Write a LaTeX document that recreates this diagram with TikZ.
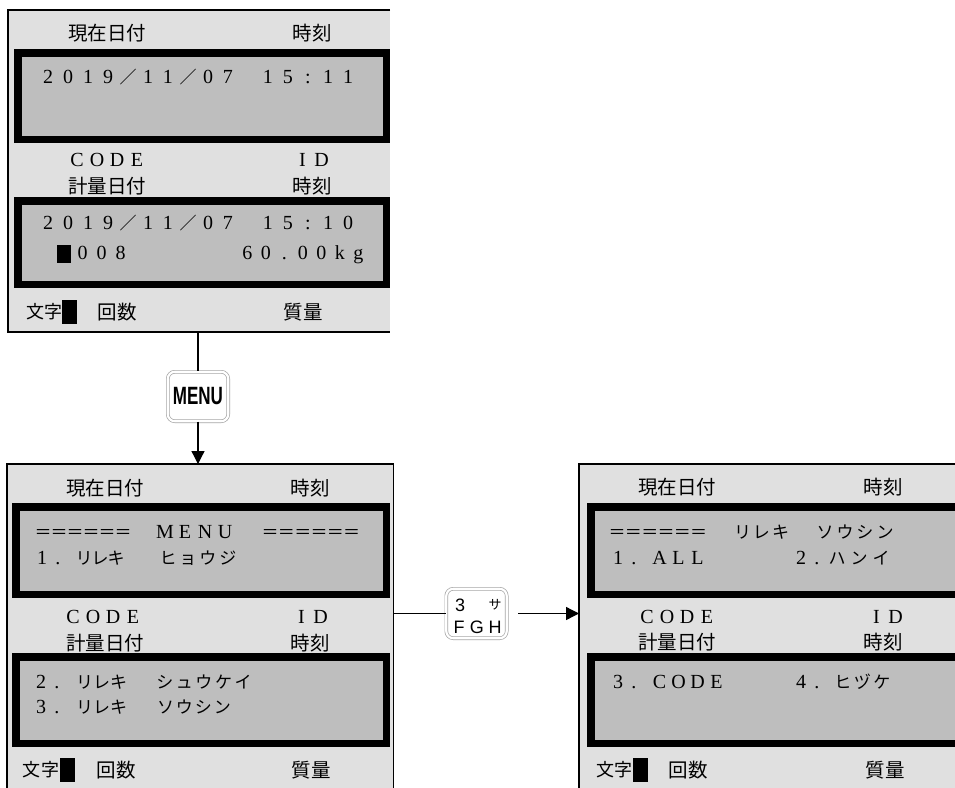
\documentclass[tikz,border=0pt]{standalone}
\usepackage{fontspec}
\usepackage{graphicx}
\usetikzlibrary{arrows.meta}
\newfontfamily\jpfont{Noto Sans CJK JP}
\newfontfamily\keyfont{Liberation Sans}
\newfontfamily\lcdfont{Liberation Serif}
\newcommand\jp{\jpfont\fontsize{19.5pt}{20pt}\selectfont}
\newcommand\jps{\jpfont\fontsize{18pt}{18pt}\selectfont}
\newcommand\kana{\jpfont\fontsize{17pt}{17pt}\selectfont}
\newcommand\lcdf{\lcdfont\fontsize{20pt}{20pt}\selectfont}
\definecolor{lcdout}{RGB}{224,224,224}
\definecolor{lcdin}{RGB}{190,190,190}
\newlength\lcdw
\newcommand\lcdcell[1]{\makebox[\lcdw]{\ifnum`#1>"2000 \kana\fi#1}}
\def\lcdloop#1{\ifx\relax#1\else\lcdcell{#1}\expandafter\lcdloop\fi}
\newcommand\lcd[2]{\setlength\lcdw{#1pt}\lcdloop#2\relax}
\begin{document}
\begin{tikzpicture}[x=1pt,y=-1pt,
  scr/.style={fill=lcdout, inner sep=0, outer sep=0},
  frame/.style={draw=black, line width=1.5pt},
  panel/.style={draw=black, fill=lcdin, line width=7.5pt, inner sep=0, outer sep=0},
  blk/.style={fill=black, inner sep=0, outer sep=0},
  lt/.style={anchor=base west, inner sep=0, outer sep=0, font=\lcdf},
  lb/.style={inner sep=0, outer sep=0, font=\jp},
  key/.style={draw=gray!70, double=white, double distance=2.2pt, line width=0.7pt,
    rounded corners=7pt, fill=white, minimum width=60.4pt, minimum height=49.4pt, inner sep=0},
  kt/.style={inner sep=0, outer sep=0, font=\keyfont\fontsize{18pt}{18pt}\selectfont},
  conn/.style={line width=1.3pt, draw=black},
  arr/.style={-{Triangle[length=13pt,width=13pt]}}]
\useasboundingbox (0,0) rectangle (955,787);
\clip (0,0) rectangle (955,787);
\fill[white] (0,0) rectangle (955,787);

% ---------- screen 1 ----------
\node[scr, minimum width=382pt, minimum height=322pt] (s1) at (199,171) {};
\draw[frame] (s1.north east) -- (s1.north west) -- (s1.south west) -- (s1.south east);
\node[panel, minimum width=368.5pt, minimum height=86.5pt] (s1a) at (202,96) {};
\node[panel, minimum width=368.5pt, minimum height=83.5pt] (s1b) at (202,242.5) {};
\node[lb] (s1l1) at (107,33) {現在日付};
\node[lb] (s1l2) at (312,33) {時刻};
\node[lt] (s1l3) at (38,83.5) {\lcd{20}{2019／11／07~15:11}};
\node[lt] (s1l4) at (67,166.5) {\lcd{20}{CODE}};
\node[lt] (s1l5) at (293,166.5) {\lcd{19}{ID}};
\node[lb] (s1l6) at (107,186) {計量日付};
\node[lb] (s1l7) at (312,186) {時刻};
\node[lt] (s1l8) at (38,229.5) {\lcd{20}{2019／11／07~15:10}};
\node[blk, minimum width=14pt, minimum height=18pt] (c1) at (64,254) {};
\node[lt] (s1l9) at (73,259.5) {\lcd{19}{008}};
\node[lt] (s1l10) at (238,259.5) {\lcd{18.5}{60.00kg}};
\node[lb, font=\jps] (s1l11) at (44.5,312) {文字};
\node[blk, minimum width=15pt, minimum height=24pt] (b1) at (69.5,312) {};
\node[lb] (s1l12) at (117,312) {回数};
\node[lb] (s1l13) at (303,312) {質量};

% ---------- screen 2 ----------
\node[scr, frame, minimum width=386.5pt, minimum height=336pt] (s2) at (200,632) {};
\node[panel, minimum width=370.5pt, minimum height=87.5pt] (s2a) at (201,550.5) {};
\node[panel, minimum width=370.5pt, minimum height=86.5pt] (s2b) at (201,700) {};
\node[lb] (s2l1) at (105,488) {現在日付};
\node[lb] (s2l2) at (310,488) {時刻};
\node[lt] (s2l3) at (35,538.5) {\lcd{16}{＝＝＝＝＝＝}};
\node[lt] (s2l4) at (155,538.5) {\lcd{20}{MENU}};
\node[lt] (s2l5) at (262,538.5) {\lcd{16.3}{＝＝＝＝＝＝}};
\node[lt] (s2l6) at (34,564.5) {\lcd{16}{1.}};
\node[lt] (s2l7) at (76,564.5) {\lcd{16}{リレキ}};
\node[lt] (s2l8) at (158,564.5) {\lcd{20}{ヒョウジ}};
\node[lt] (s2l9) at (63,623.5) {\lcd{20}{CODE}};
\node[lt] (s2l10) at (292,623.5) {\lcd{19}{ID}};
\node[lb] (s2l11) at (105,643) {計量日付};
\node[lb] (s2l12) at (310,643) {時刻};
\node[lt] (s2l13) at (33,688.5) {\lcd{16}{2.}};
\node[lt] (s2l14) at (76,688.5) {\lcd{17}{リレキ}};
\node[lt] (s2l15) at (155,688.5) {\lcd{19.6}{シュウケイ}};
\node[lt] (s2l16) at (33,713.5) {\lcd{16}{3.}};
\node[lt] (s2l17) at (76,713.5) {\lcd{17}{リレキ}};
\node[lt] (s2l18) at (156,713.5) {\lcd{19}{ソウシン}};
\node[lb, font=\jps] (s2l19) at (41,770) {文字};
\node[blk, minimum width=15pt, minimum height=24pt] (b2) at (67.5,770) {};
\node[lb] (s2l20) at (116,770) {回数};
\node[lb] (s2l21) at (311,770) {質量};

% ---------- screen 3 ----------
\node[scr, frame, minimum width=391pt, minimum height=336pt] (s3) at (774.5,632) {};
\node[panel, minimum width=380.5pt, minimum height=87.5pt] (s3a) at (781,550.5) {};
\node[panel, minimum width=380.5pt, minimum height=86.5pt] (s3b) at (781,700) {};
\node[lb] (s3l1) at (677,487) {現在日付};
\node[lb] (s3l2) at (883,487) {時刻};
\node[lt] (s3l3) at (609,538.5) {\lcd{16.3}{＝＝＝＝＝＝}};
\node[lt] (s3l4) at (733,538.5) {\lcd{19}{リレキ}};
\node[lt] (s3l5) at (815,538.5) {\lcd{20}{ソウシン}};
\node[lt] (s3l6) at (610,564.5) {\lcd{16}{1.}};
\node[lt] (s3l7) at (650,564.5) {\lcd{19}{ALL}};
\node[lt] (s3l8) at (793,564.5) {\lcd{16}{2.}};
\node[lt] (s3l9) at (826,564.5) {\lcd{22}{ハンイ}};
\node[lt] (s3l10) at (637,623.5) {\lcd{20}{CODE}};
\node[lt] (s3l11) at (867,623.5) {\lcd{19}{ID}};
\node[lb] (s3l12) at (677,642) {計量日付};
\node[lb] (s3l13) at (883,642) {時刻};
\node[lt] (s3l14) at (610,688.5) {\lcd{16}{3.}};
\node[lt] (s3l15) at (650,688.5) {\lcd{19}{CODE}};
\node[lt] (s3l16) at (793,688.5) {\lcd{16}{4.}};
\node[lt] (s3l17) at (833,688.5) {\lcd{19.5}{ヒヅケ}};
\node[lb, font=\jps] (s3l18) at (614,770) {文字};
\node[blk, minimum width=15pt, minimum height=24pt] (b3) at (640.5,770) {};
\node[lb] (s3l19) at (688,770) {回数};
\node[lb] (s3l20) at (885,770) {質量};

% ---------- keys ----------
\node[key] (menu) at (198,396.5) {\scalebox{0.68}[1]{\keyfont\bfseries\fontsize{25pt}{25pt}\selectfont MENU}};
\node[key] (k3) at (476.5,613.5) {};
\node[kt] (k3a) at (460,605) {3};
\node[inner sep=0, outer sep=0, font=\jpfont\fontsize{13pt}{13pt}\selectfont] (k3b) at (495,605) {サ};
\node[kt] (k3c) at (477,627) {\lcd{18}{FGH}};

% ---------- connectors ----------
\draw[conn] (menu.north |- s1.south) -- (menu.north);
\draw[conn, arr] (menu.south) -- (menu.south |- s2.north);
\draw[conn] (k3.west -| s2.east) -- (k3.west);
\draw[conn, arr] ([xshift=11pt]k3.east) -- (k3.east -| s3.west);
\end{tikzpicture}
\end{document}
